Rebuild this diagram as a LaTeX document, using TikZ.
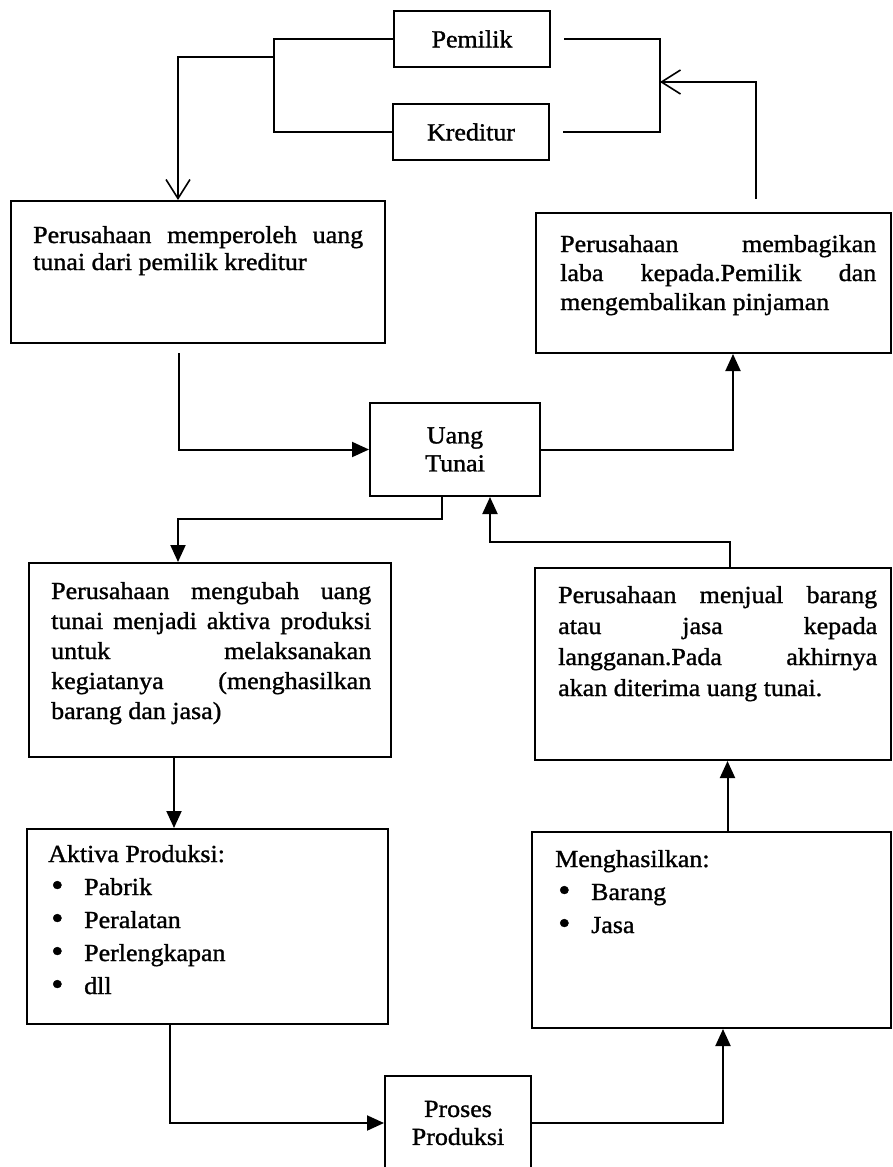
\documentclass[tikz,border=0pt]{standalone}
\usepackage{fontspec}
\setmainfont{Liberation Serif}[FakeStretch=1.06,FakeBold=1.2]
\usetikzlibrary{arrows.meta}
\hyphenpenalty=10000
\newcommand{\butir}[1]{\hspace*{3pt}\makebox[33pt][l]{\raisebox{-1pt}{\scalebox{1.35}{\textbullet}}}#1}

\begin{document}
\begin{tikzpicture}[x=1pt,y=-1pt,font=\fontsize{24.5}{28}\selectfont,
  kotak/.style={draw,line width=2pt,inner sep=0pt},
  isi/.style={anchor=base west,inner sep=0pt},
  garis/.style={line width=2pt},
  penuh/.style={garis,-{Triangle[length=17pt,width=15pt]}},
  buka/.style={line width=1.6pt,-{Straight Barb[length=19pt,width=24pt]}}]
\useasboundingbox (0,0) rectangle (893,1167);

% sumber dana
\node[kotak,minimum width=156pt,minimum height=56pt] (pemilik) at (472,39) {Pemilik};
\node[kotak,minimum width=156pt,minimum height=56pt] (kreditur) at (471,132) {Kreditur};

% kotak-kotak siklus
\node[kotak,minimum width=374pt,minimum height=142pt] (peroleh) at (198,272) {};
\node[isi] (peroleh-t) at (33,243) {\parbox[t]{330pt}{\baselineskip=27pt
  Perusahaan memperoleh uang\linebreak tunai dari pemilik kreditur}};

\node[kotak,minimum width=355pt,minimum height=140pt] (bagi) at (713.5,283) {};
\node[isi] (bagi-t) at (560,252) {\parbox[t]{316pt}{\baselineskip=29pt
  Perusahaan membagikan\linebreak laba kepada.Pemilik dan\linebreak mengembalikan pinjaman}};

\node[kotak,minimum width=170pt,minimum height=93pt,align=center] (uang) at (455,449.5) {Uang\\Tunai};

\node[kotak,minimum width=362pt,minimum height=194pt] (ubah) at (210,660) {};
\node[isi] (ubah-t) at (51,599) {\parbox[t]{320pt}{\baselineskip=30pt
  Perusahaan mengubah uang\linebreak tunai menjadi aktiva produksi\linebreak untuk melaksanakan\linebreak kegiatanya (menghasilkan\linebreak barang dan jasa)}};

\node[kotak,minimum width=356pt,minimum height=192pt] (jual) at (713,664) {};
\node[isi] (jual-t) at (558,603) {\parbox[t]{319pt}{\baselineskip=31pt
  Perusahaan menjual barang\linebreak atau jasa kepada\linebreak langganan.Pada akhirnya\linebreak akan diterima uang tunai.}};

\node[kotak,minimum width=361pt,minimum height=195pt] (aktiva) at (207.5,926.5) {};
\node[isi] (aktiva-t) at (48,862) {\parbox[t]{300pt}{\baselineskip=33pt
  Aktiva Produksi:\\ \butir{Pabrik}\\ \butir{Peralatan}\\ \butir{Perlengkapan}\\ \butir{dll}}};

\node[kotak,minimum width=359pt,minimum height=196pt] (hasil) at (711.5,930) {};
\node[isi] (hasil-t) at (555,867) {\parbox[t]{300pt}{\baselineskip=33pt
  Menghasilkan:\\ \butir{Barang}\\ \butir{Jasa}}};

\node[kotak,minimum width=146pt,minimum height=94pt,align=center] (proses) at (458,1123) {Proses\\Produksi};

% penghubung
\coordinate (kiri) at (274,57);
\coordinate (kanan) at (660,82);
\draw[garis] (pemilik.west) -| (kiri) |- (kreditur.west);
\draw[buka] (kiri) -| ([xshift=-20pt]peroleh.north);
\draw[garis,shorten <=13pt,shorten >=13pt] (pemilik.east) -| (kanan) |- (kreditur.east);
\draw[buka,shorten <=13pt] ([xshift=42.5pt]bagi.north) |- (kanan);

\draw[penuh,shorten <=9pt] ([xshift=-19pt]peroleh.south) |- (uang.west);
\draw[penuh] (uang.east) -| ([xshift=19.5pt]bagi.south);
\draw[penuh] ([xshift=-13pt]uang.south) -- ++(0,22) -| ([xshift=-32pt]ubah.north);
\draw[penuh] ([xshift=17pt]jual.north) -- ++(0,-25) -| ([xshift=35pt]uang.south);

\coordinate (turun) at ([xshift=-36pt]ubah.south);
\draw[penuh] (turun) -- (turun |- aktiva.north);
\coordinate (naik) at ([xshift=16pt]hasil.north);
\draw[penuh] (naik) -- (naik |- jual.south);

\draw[penuh] ([xshift=-38pt]aktiva.south) |- (proses.west);
\draw[penuh] (proses.east) -| ([xshift=11.5pt]hasil.south);
\end{tikzpicture}
\end{document}
